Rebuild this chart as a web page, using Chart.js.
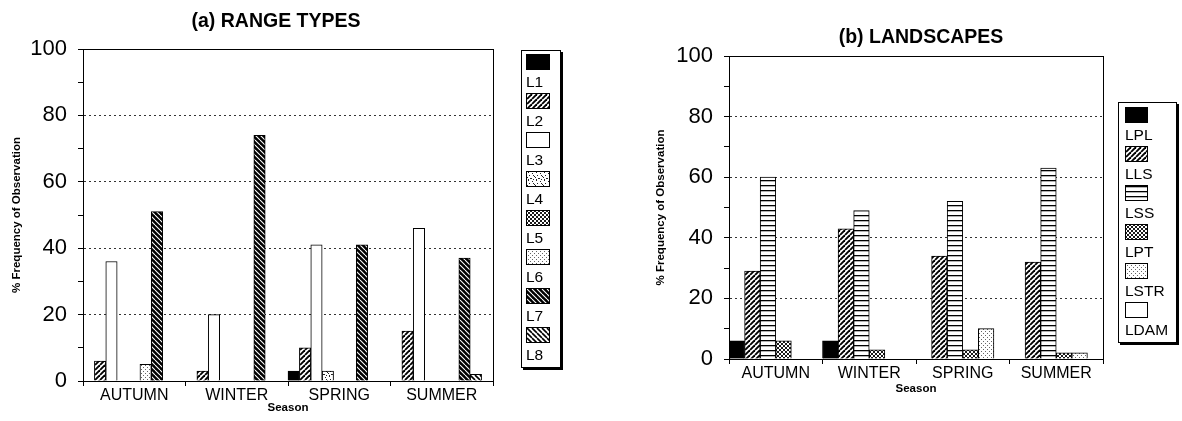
<!DOCTYPE html>
<html>
<head>
<meta charset="utf-8">
<title>Range types and landscapes by season</title>
<script src="https://cdn.jsdelivr.net/npm/chart.js@4.4.1/dist/chart.umd.min.js"></script>
<style>
  html, body { margin: 0; padding: 0; background: #fff; overflow: hidden; }
  #stage { position: relative; width: 1182px; height: 421px; overflow: hidden;
           font-family: "Liberation Sans", Arial, sans-serif; color: #000; }
  #stage canvas { position: absolute; top: 0; }
  #chartA { left: 0; }
  #chartB { left: 650px; }
  .legend { position: absolute; background: #fff; border: 1px solid #000;
            box-shadow: 2px 2px 0 #000; box-sizing: border-box; }
  #legendA { left: 521px; top: 50px; width: 40px; height: 318px; padding: 3px 0 0 4px; }
  #legendB { left: 1118px; top: 102px; width: 59px; height: 241px; padding: 4px 0 0 6px; }
  .legend .item { height: 39px; }
  .legend .sw { height: 16px; border: 1px solid #000; box-sizing: border-box; }
  #legendA .sw { width: 24px; }
  #legendB .sw { width: 23px; }
  .legend .lb { font-size: 15.5px; line-height: 18px; margin-top: 2.5px; white-space: nowrap; }
</style>
</head>
<body>
<div id="stage">
  <canvas id="chartA" width="552" height="421"></canvas>
  <canvas id="chartB" width="542" height="421"></canvas>
  <div id="legendA" class="legend"></div>
  <div id="legendB" class="legend"></div>
</div>
<script>
// ---- data ----
const seasons = ['AUTUMN', 'WINTER', 'SPRING', 'SUMMER'];

// (a) range types, % of observations per season
const rangeNames = ['L1', 'L2', 'L3', 'L4', 'L5', 'L6', 'L7', 'L8'];
const L1 = [0, 0, 3, 0];
const L2 = [6, 3, 10, 15];
const L3 = [36, 20, 41, 46];
const L4 = [0, 0, 3, 0];
const L5 = [0, 0, 0, 0];
const L6 = [5, 0, 0, 0];
const L7 = [51, 74, 41, 37];
const L8 = [0, 0, 0, 2];

// (b) landscapes, % of observations per season
const landNames = ['LPL', 'LLS', 'LSS', 'LPT', 'LSTR', 'LDAM'];
const LPL = [6, 6, 0, 0];
const LLS = [29, 43, 34, 32];
const LSS = [60, 49, 52, 63];
const LPT = [6, 3, 3, 2];
const LSTR = [0, 0, 10, 2];
const LDAM = [0, 0, 0, 0];

const yMin = 0, yMax = 100, yStep = 10, yLabelEvery = 20;

// ---- monochrome fill tiles ----
const FONT = "'Liberation Sans', Arial, sans-serif";

function tile(w, h, paint) {
  const c = document.createElement('canvas');
  c.width = w; c.height = h;
  const g = c.getContext('2d');
  g.fillStyle = '#fff';
  g.fillRect(0, 0, w, h);
  paint(g, w, h);
  return c;
}
function diag(g, w, h, dir, width, color) {
  g.strokeStyle = color; g.lineWidth = width;
  for (const k of [-w, 0, w]) {
    g.beginPath();
    if (dir > 0) { g.moveTo(k, h); g.lineTo(k + w, 0); }
    else { g.moveTo(k, 0); g.lineTo(k + w, h); }
    g.stroke();
  }
}
function dots(g, pts, color) {
  g.fillStyle = color;
  for (const [x, y] of pts) g.fillRect(x, y, 1, 1);
}

const tiles = {
  solid: tile(4, 4, (g, w, h) => { g.fillStyle = '#000'; g.fillRect(0, 0, w, h); }),
  white: tile(4, 4, () => {}),
  fwd: tile(5, 5, (g, w, h) => diag(g, w, h, 1, 1.9, '#000')),
  back: tile(5, 5, (g, w, h) => diag(g, w, h, -1, 1.6, '#000')),
  darkBack: tile(5, 5, (g, w, h) => {
    g.fillStyle = '#000'; g.fillRect(0, 0, w, h);
    diag(g, w, h, -1, 1.1, '#fff');
  }),
  hlines: tile(6, 5, (g, w) => { g.fillStyle = '#000'; g.fillRect(0, 0, w, 1.3); }),
  cross: tile(4, 4, (g, w, h) => {
    diag(g, w, h, 1, 0.9, '#000');
    diag(g, w, h, -1, 0.9, '#000');
  }),
  dotted: tile(4, 4, (g) => dots(g, [[1, 1], [3, 3]], '#666')),
  speckle: tile(8, 8, (g) => dots(g, [[1, 0], [5, 1], [2, 3], [6, 3], [7, 4], [0, 5], [3, 6], [4, 6], [6, 7], [1, 7]], '#222'))
};

// ---- charts ----
function buildChart(canvasId, cfg) {
  const canvas = document.getElementById(canvasId);
  const ctx = canvas.getContext('2d');
  const datasets = cfg.series.map((values, i) => ({
    label: cfg.names[i],
    data: values,
    backgroundColor: ctx.createPattern(tiles[cfg.fills[i]], 'repeat'),
    borderColor: '#000',
    borderWidth: 1
  }));
  // an empty trailing slot keeps the spacing of the grouped bars
  for (let i = 0; i < cfg.emptySlots; i++) datasets.push({ label: '', data: [] });

  return new Chart(ctx, {
    type: 'bar',
    data: { labels: seasons, datasets },
    options: {
      responsive: false,
      animation: false,
      events: [],
      layout: { padding: 0 },
      datasets: { bar: { barPercentage: 1, categoryPercentage: 1 } },
      plugins: {
        legend: { display: false },
        tooltip: { enabled: false },
        title: {
          display: true, text: cfg.title, color: '#000',
          font: { family: FONT, size: 19.5, weight: 'bold' },
          padding: cfg.titlePad
        }
      },
      scales: {
        x: {
          type: 'category', position: 'bottom',
          grid: { drawOnChartArea: false, drawTicks: true, tickLength: 5, color: '#000', offset: true },
          border: { display: true, color: '#000', width: 1 },
          ticks: { color: '#000', font: { family: FONT, size: 16 }, padding: 0, maxRotation: 0 },
          title: {
            display: true, text: 'Season', color: '#000',
            font: { family: FONT, size: 11.5, weight: 'bold' },
            padding: { top: 0, bottom: cfg.xTitleBottom }
          },
          afterFit: s => { s.height = cfg.xHeight; }
        },
        x2: {
          type: 'category', position: 'top', labels: seasons,
          grid: { display: false }, ticks: { display: false },
          border: { display: true, color: '#000', width: 1 },
          afterFit: s => { s.height = 0; }
        },
        y: {
          min: yMin, max: yMax,
          ticks: {
            stepSize: yStep, autoSkip: false, color: '#000', padding: 11,
            font: { family: FONT, size: 22 },
            callback: v => (v % yLabelEvery === 0 ? v : '')
          },
          grid: {
            drawTicks: true, tickLength: 5, tickColor: '#000', lineWidth: 1,
            color: c => (c.tick && c.tick.value % yLabelEvery === 0 &&
                         c.tick.value > yMin && c.tick.value < yMax) ? '#333' : 'rgba(0,0,0,0)'
          },
          border: { display: true, color: '#000', width: 1, dash: [2, 3] },
          title: {
            display: true, text: '% Frequency of Observation', color: '#000',
            font: { family: FONT, size: 11.5, weight: 'bold' },
            padding: { top: cfg.yTitleTop, bottom: 0 }
          },
          afterFit: s => { s.width = cfg.yWidth; }
        },
        y2: {
          position: 'right',
          grid: { display: false }, ticks: { display: false },
          border: { display: true, color: '#000', width: 1 },
          afterFit: s => { s.width = cfg.rightWidth; }
        }
      }
    }
  });
}

function buildLegend(id, names, fills) {
  const box = document.getElementById(id);
  names.forEach((name, i) => {
    const item = document.createElement('div');
    item.className = 'item';
    const sw = document.createElement('div');
    sw.className = 'sw';
    sw.style.backgroundImage = 'url(' + tiles[fills[i]].toDataURL() + ')';
    const lb = document.createElement('div');
    lb.className = 'lb';
    lb.textContent = name;
    item.append(sw, lb);
    box.append(item);
  });
}

const rangeFills = ['solid', 'fwd', 'white', 'speckle', 'cross', 'dotted', 'darkBack', 'back'];
const landFills = ['solid', 'fwd', 'hlines', 'cross', 'dotted', 'white'];

buildChart('chartA', {
  title: '(a) RANGE TYPES',
  names: rangeNames,
  series: [L1, L2, L3, L4, L5, L6, L7, L8],
  fills: rangeFills,
  emptySlots: 1,
  titlePad: { top: 9.8, bottom: 15.8 },
  yWidth: 83, rightWidth: 59, xHeight: 40,
  xTitleBottom: 6, yTitleTop: 10
});

buildChart('chartB', {
  title: '(b) LANDSCAPES',
  names: landNames,
  series: [LPL, LLS, LSS, LPT, LSTR, LDAM],
  fills: landFills,
  emptySlots: 0,
  titlePad: { top: 26.3, bottom: 6.3 },
  yWidth: 79, rightWidth: 89, xHeight: 62,
  xTitleBottom: 25, yTitleTop: 4
});

buildLegend('legendA', rangeNames, rangeFills);
buildLegend('legendB', landNames, landFills);
</script>
</body>
</html>
